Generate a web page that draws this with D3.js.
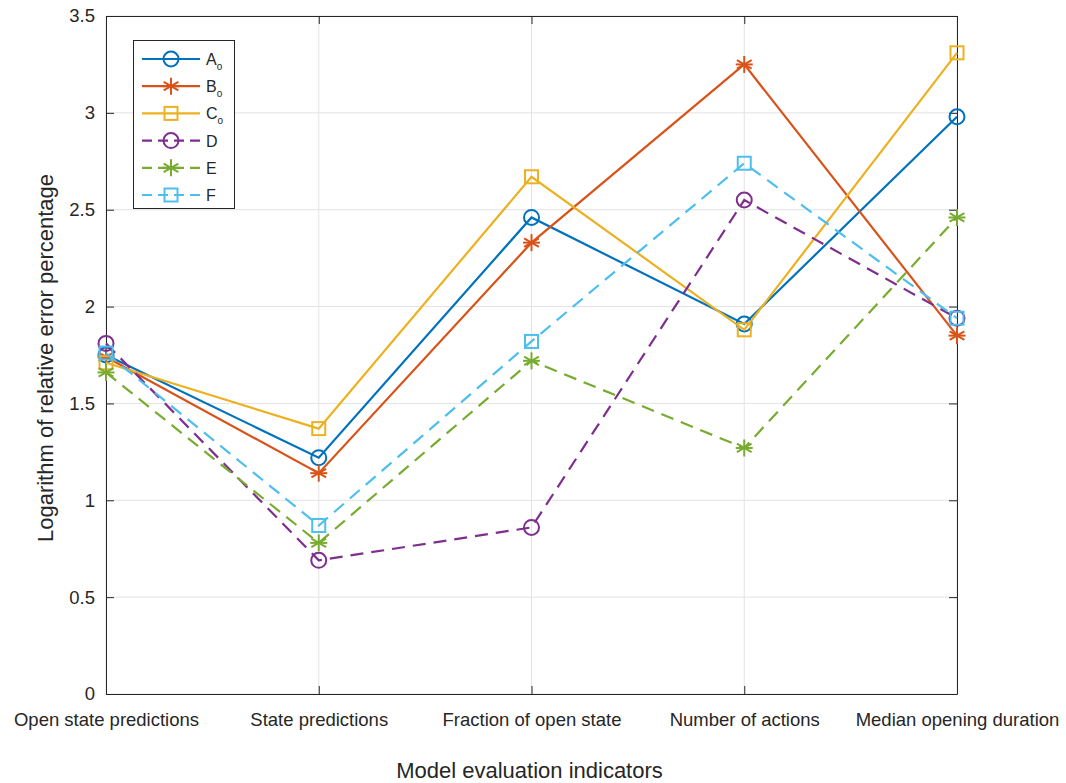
<!DOCTYPE html>
<html>
<head>
<meta charset="utf-8">
<script src="https://cdn.jsdelivr.net/npm/d3@7"></script>
<style>
  html, body { margin: 0; padding: 0; background: #fff; }
  svg text { font-family: "Liberation Sans", Arial, Helvetica, sans-serif; fill: #262626; }
</style>
</head>
<body>
<svg id="chart" width="1066" height="783"></svg>
<script>
// Evaluation indicators along the x axis
const categories = ["Open state predictions", "State predictions", "Fraction of open state", "Number of actions", "Median opening duration"];

// Logarithm of relative error percentage for each model
const seriesA = [1.75, 1.22, 2.46, 1.91, 2.98];
const seriesB = [1.74, 1.14, 2.33, 3.25, 1.85];
const seriesC = [1.71, 1.37, 2.67, 1.88, 3.31];
const seriesD = [1.81, 0.69, 0.86, 2.55, 1.94];
const seriesE = [1.66, 0.78, 1.72, 1.27, 2.46];
const seriesF = [1.76, 0.87, 1.82, 2.74, 1.94];

const yTicks = [0, 0.5, 1, 1.5, 2, 2.5, 3, 3.5];
const yTickLabels = ["0", "0.5", "1", "1.5", "2", "2.5", "3", "3.5"];

const series = [
  { name: "A", sub: "o", values: seriesA, color: "#0072BD", marker: "circle",   dashed: false },
  { name: "B", sub: "o", values: seriesB, color: "#D95319", marker: "asterisk", dashed: false },
  { name: "C", sub: "o", values: seriesC, color: "#EDB120", marker: "square",   dashed: false },
  { name: "D", sub: "",  values: seriesD, color: "#7E2F8E", marker: "circle",   dashed: true },
  { name: "E", sub: "",  values: seriesE, color: "#77AC30", marker: "asterisk", dashed: true },
  { name: "F", sub: "",  values: seriesF, color: "#4DBEEE", marker: "square",   dashed: true }
];

const svg = d3.select("#chart");
const plotLeft = 106, plotRight = 957, plotTop = 16, plotBottom = 694;
const dash = "13,8";

const x = d3.scalePoint().domain(categories).range([plotLeft, plotRight]);
const y = d3.scaleLinear().domain([0, 3.5]).range([plotBottom, plotTop]);

// grid
const grid = svg.append("g");
grid.selectAll("line.gy").data(yTicks).join("line")
  .attr("x1", plotLeft).attr("x2", plotRight)
  .attr("y1", d => y(d)).attr("y2", d => y(d))
  .attr("stroke", "#e3e3e3").attr("stroke-width", 1);
grid.selectAll("line.gx").data(categories).join("line")
  .attr("x1", d => x(d)).attr("x2", d => x(d))
  .attr("y1", plotTop).attr("y2", plotBottom)
  .attr("stroke", "#e3e3e3").attr("stroke-width", 1);

// axes with inward ticks
const tickLen = 8;
const yAxis = d3.axisLeft(y).tickValues(yTicks)
  .tickFormat((d, i) => yTickLabels[i]).tickSizeInner(-tickLen).tickSizeOuter(0).tickPadding(11);
const yAxisR = d3.axisRight(y).tickValues(yTicks).tickFormat("").tickSizeInner(-tickLen).tickSizeOuter(0);
const xAxis = d3.axisBottom(x).tickSizeInner(-tickLen).tickSizeOuter(0).tickPadding(19);
const xAxisT = d3.axisTop(x).tickFormat("").tickSizeInner(-tickLen).tickSizeOuter(0);

function styleAxis(g) {
  g.select(".domain").attr("stroke", "#262626").attr("stroke-width", 1);
  g.selectAll(".tick line").attr("stroke", "#262626").attr("stroke-width", 1);
  g.selectAll(".tick text").attr("font-size", 18.5).attr("fill", "#262626")
    .attr("font-family", '"Liberation Sans", Arial, sans-serif');
}

svg.append("g").attr("transform", `translate(${plotLeft},0)`).call(yAxis).call(styleAxis);
svg.append("g").attr("transform", `translate(${plotRight},0)`).call(yAxisR).call(styleAxis);
svg.append("g").attr("transform", `translate(0,${plotBottom})`).call(xAxis).call(styleAxis);
svg.append("g").attr("transform", `translate(0,${plotTop})`).call(xAxisT).call(styleAxis);

// axis titles
svg.append("text")
  .attr("x", (plotLeft + plotRight) / 2 - 2).attr("y", 778)
  .attr("text-anchor", "middle").attr("font-size", 22)
  .text("Model evaluation indicators");
svg.append("text")
  .attr("transform", `translate(53,${(plotTop + plotBottom) / 2 + 3}) rotate(-90)`)
  .attr("text-anchor", "middle").attr("font-size", 22)
  .text("Logarithm of relative error percentage");

// marker drawing
function drawMarker(g, type, cx, cy, color) {
  if (type === "circle") {
    g.append("circle").attr("cx", cx).attr("cy", cy).attr("r", 7.5)
      .attr("fill", "none").attr("stroke", color).attr("stroke-width", 2);
  } else if (type === "square") {
    g.append("rect").attr("x", cx - 6.5).attr("y", cy - 6.5).attr("width", 13).attr("height", 13)
      .attr("fill", "none").attr("stroke", color).attr("stroke-width", 2);
  } else {
    const r = 8.5;
    const pts = [[0, -r, 0, r], [-r * 0.866, -r * 0.5, r * 0.866, r * 0.5], [-r * 0.866, r * 0.5, r * 0.866, -r * 0.5], [-r, 0, r, 0]];
    pts.forEach(p => g.append("line")
      .attr("x1", cx + p[0]).attr("y1", cy + p[1]).attr("x2", cx + p[2]).attr("y2", cy + p[3])
      .attr("stroke", color).attr("stroke-width", 2));
  }
}

const line = d3.line().x((d, i) => x(categories[i])).y(d => y(d));

const plot = svg.append("g");
series.forEach(s => {
  const g = plot.append("g");
  g.append("path").datum(s.values).attr("d", line)
    .attr("fill", "none").attr("stroke", s.color).attr("stroke-width", 2.2)
    .attr("stroke-dasharray", s.dashed ? dash : null);
  s.values.forEach((v, i) => drawMarker(g, s.marker, x(categories[i]), y(v), s.color));
});

// legend
const lg = svg.append("g");
lg.append("rect").attr("x", 133.5).attr("y", 40.5).attr("width", 101).attr("height", 168)
  .attr("fill", "#fff").attr("stroke", "#262626").attr("stroke-width", 1);
series.forEach((s, i) => {
  const ly = 59 + i * 27.2;
  lg.append("line").attr("x1", 142).attr("x2", 200).attr("y1", ly).attr("y2", ly)
    .attr("stroke", s.color).attr("stroke-width", 2.2)
    .attr("stroke-dasharray", s.dashed ? "10,6" : null);
  drawMarker(lg, s.marker, 171, ly, s.color);
  const t = lg.append("text").attr("x", 206).attr("y", ly + 6).attr("font-size", 16);
  t.append("tspan").text(s.name);
  if (s.sub) t.append("tspan").attr("dy", 5).attr("font-size", 10).text(s.sub);
});
</script>
</body>
</html>
